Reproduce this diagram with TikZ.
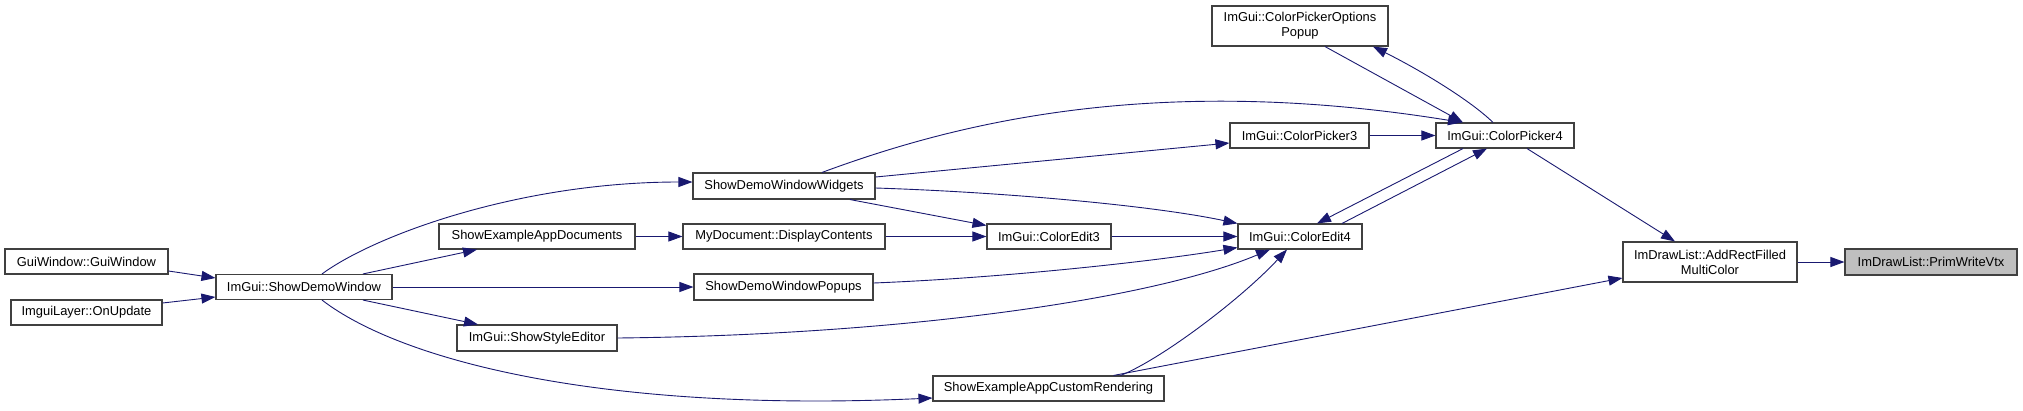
\documentclass[tikz,border=0pt]{standalone}
\usepackage{fontspec}
\setmainfont{Liberation Sans}
\usetikzlibrary{arrows.meta}
\definecolor{edgecol}{HTML}{191970}
\definecolor{bordcol}{HTML}{404040}
\definecolor{graycol}{HTML}{BFBFBF}
\begin{document}
\begin{tikzpicture}[x=1pt,y=-1pt,
  box/.style={draw=bordcol, line width=1.1pt, fill=white, inner sep=0pt, align=center,
    font=\fontsize{12.9}{15}\selectfont, minimum height=25pt},
  e/.style={draw=edgecol, line width=0.9pt, -{Triangle[length=14pt,width=10pt]}}]
\useasboundingbox (0,0) rectangle (2023,410);
% nodes
\node[box,minimum width=163pt] (gw) at (86.5,261.5) {GuiWindow::GuiWindow};
\node[box,minimum width=151pt] (ol) at (86.5,312.5) {ImguiLayer::OnUpdate};
\node[box,minimum width=176pt] (sdw) at (304,287) {ImGui::ShowDemoWindow};
\node[box,minimum width=182pt,minimum height=26pt] (wid) at (784,186) {ShowDemoWindowWidgets};
\node[box,minimum width=196pt] (doc) at (537,236.5) {ShowExampleAppDocuments};
\node[box,minimum width=179pt,minimum height=26pt] (pop) at (783.5,287) {ShowDemoWindowPopups};
\node[box,minimum width=160pt,minimum height=26pt] (sse) at (537,338) {ImGui::ShowStyleEditor};
\node[box,minimum width=202pt] (mdc) at (784,236.5) {MyDocument::DisplayContents};
\node[box,minimum width=231pt] (car) at (1048.5,388.5) {ShowExampleAppCustomRendering};
\node[box,minimum width=124pt] (ce3) at (1049,236.5) {ImGui::ColorEdit3};
\node[box,minimum width=124pt] (ce4) at (1300,236.5) {ImGui::ColorEdit4};
\node[box,minimum width=139pt] (cp3) at (1299.5,135.5) {ImGui::ColorPicker3};
\node[box,minimum width=176pt,minimum height=40pt] (cpo) at (1300,26) {ImGui::ColorPickerOptions\\Popup};
\node[box,minimum width=138pt] (cp4) at (1505,135.5) {ImGui::ColorPicker4};
\node[box,minimum width=174pt,minimum height=40pt] (arf) at (1710,262) {ImDrawList::AddRectFilled\\MultiColor};
\node[box,minimum width=172pt,minimum height=26pt,fill=graycol] (pwv) at (1931,262) {ImDrawList::PrimWriteVtx};
% edges
\draw[e] ([yshift=-9.5pt]gw.east) -- ([yshift=9pt]sdw.west);
\draw[e] ([yshift=9.5pt]ol.east) -- ([yshift=-10pt]sdw.west);
\draw[e] ([xshift=18pt]sdw.north) .. controls (375,235) and (520,182) .. ([yshift=4pt]wid.west);
\draw[e] ([xshift=59pt]sdw.north) -- ([xshift=-60pt]doc.south);
\draw[e] (sdw.east) -- (pop.west);
\draw[e] ([xshift=59pt]sdw.south) -- ([xshift=-59pt]sse.north);
\draw[e] ([xshift=18pt]sdw.south) .. controls (400,360) and (600,413) .. ([yshift=-9.5pt]car.west);
\draw[e] (doc.east) -- (mdc.west);
\draw[e] (mdc.east) -- (ce3.west);
\draw[e] ([xshift=66pt]wid.south) -- ([yshift=-2pt]ce3.north west);
\draw[e] ([yshift=-2pt]wid.east) .. controls (1000,192) and (1150,205) .. (ce4.north west);
\draw[e] ([yshift=9pt]wid.east) -- ([yshift=-7.5pt]cp3.west);
\draw[e] ([xshift=38pt]wid.north) .. controls (950,125) and (1150,72) .. ([xshift=-43pt]cp4.north);
\draw[e] (ce3.east) -- (ce4.west);
\draw[e] ([yshift=4pt]pop.east) .. controls (1000,278) and (1150,262) .. ([yshift=2pt]ce4.south west);
\draw[e] (sse.east) .. controls (900,335) and (1150,300) .. ([xshift=-30pt]ce4.south);
\draw[e] ([xshift=72pt]car.north) .. controls (1160,360) and (1240,300) .. ([xshift=-13pt]ce4.south);
\draw[e] ([xshift=65pt]car.north) -- ([yshift=-16pt]arf.west);
\draw[e] (cp3.east) -- (cp4.west);
\draw[e] ([xshift=42pt]ce4.north) -- ([xshift=-18pt]cp4.south);
\draw[e] ([xshift=-42pt]cp4.south) -- ([xshift=17pt]ce4.north);
\draw[e] ([xshift=-12pt]cp4.north) .. controls (1470,100) and (1420,70) .. ([xshift=73pt]cpo.south);
\draw[e] ([xshift=25pt]cpo.south) -- ([xshift=-42pt]cp4.north);
\draw[e] ([xshift=22pt]cp4.south) -- ([xshift=-35pt]arf.north);
\draw[e] (arf.east) -- (pwv.west);
\end{tikzpicture}
\end{document}
